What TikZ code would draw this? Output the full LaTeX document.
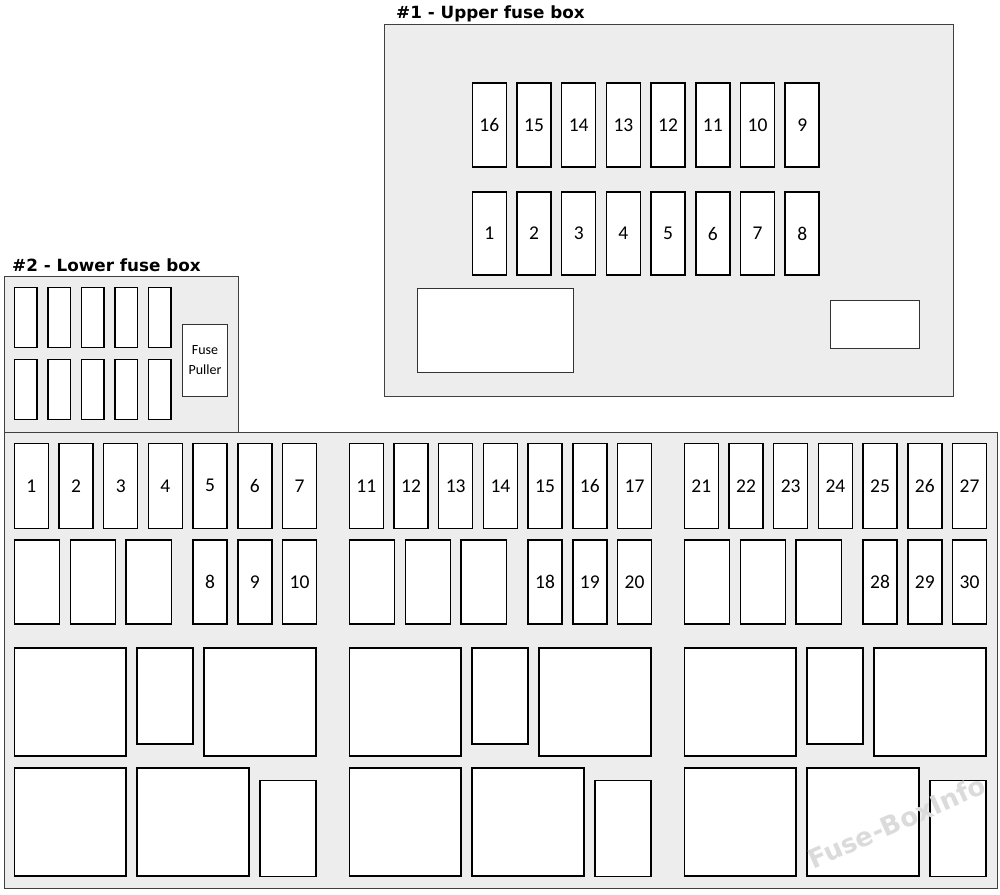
\documentclass[tikz,border=0pt]{standalone}
\usepackage{fontspec}
\setmainfont{Carlito}
\newfontfamily\titlefont{DejaVu Sans}
\begin{document}
\begin{tikzpicture}[x=1pt,y=-1pt,
  housing/.style={draw=black!75,fill=black!7,line width=1pt,inner sep=0pt,outer sep=0pt},
  fuse/.style={draw=black,fill=white,line width=1.5pt,inner sep=0pt,font=\fontsize{19.5}{20}\selectfont},
  relay/.style={draw=black,fill=white,line width=1.1pt,inner sep=0pt},
  pad/.style={draw=black!80,fill=white,line width=0.9pt,inner sep=0pt,align=center,font=\fontsize{14}{20}\selectfont},
  title/.style={anchor=base west,inner sep=0pt,font=\titlefont\bfseries\fontsize{16.8}{20}\selectfont}]
\newcommand\rbx[7]{%
  \pgfmathsetmacro\bw{#4-(#2)}\pgfmathsetmacro\bh{#5-(#3)}%
  \node[#6,minimum width=\bw,minimum height=\bh] (#1) at ({(#2+#4)/2},{(#3+#5)/2}) {#7};}
\useasboundingbox[fill=white] (0,0) rectangle (1000,894);
% ---------- upper fuse box ----------
\rbx{upper}{384}{24}{953}{396}{housing}{}
\node[title] (uptitle) at (396,18) {\#1 - Upper fuse box};
\foreach \i in {0,...,7}{
  \pgfmathsetmacro\xa{472.3+44.7*\i}
  \pgfmathtruncatemacro\lt{16-\i}
  \pgfmathtruncatemacro\lb{1+\i}
  \rbx{u\lt}{\xa}{83}{\xa+34}{167}{fuse}{\lt}
  \rbx{u\lb}{\xa}{192}{\xa+34}{275}{fuse}{\lb}
}
\rbx{urelay}{417}{288}{573}{372}{pad}{}
\rbx{uconn}{830}{300}{919}{348}{pad}{}
% ---------- lower fuse box ----------
\rbx{lowtop}{4}{276}{238.5}{432.5}{housing}{}
\rbx{lowmain}{4}{432.5}{997.5}{888.5}{housing}{}
\node[title] (lowtitle) at (12,271) {\#2 - Lower fuse box};
\foreach \i in {0,...,4}{
  \pgfmathsetmacro\xa{14.3+33.5*\i}
  \rbx{sa\i}{\xa}{287.5}{\xa+22.5}{347.5}{fuse}{}
  \rbx{sb\i}{\xa}{359.5}{\xa+22.5}{419.5}{fuse}{}
}
\rbx{puller}{182.7}{324}{227.3}{396}{pad}{Fuse\\Puller}
\foreach \g in {0,1,2}{
  \pgfmathsetmacro\o{335*\g}
  \foreach \c in {0,...,6}{
    \pgfmathsetmacro\xa{14.3+44.7*\c+\o}
    \pgfmathtruncatemacro\lab{10*\g+\c+1}
    \rbx{f\lab}{\xa}{443.3}{\xa+34}{528.3}{fuse}{\lab}
  }
  \foreach \c in {4,5,6}{
    \pgfmathsetmacro\xa{14.3+44.7*\c+\o}
    \pgfmathtruncatemacro\lab{10*\g+\c+4}
    \rbx{f\lab}{\xa}{540}{\xa+34}{624}{fuse}{\lab}
  }
  \rbx{w\g a}{14.3+\o}{540}{59.3+\o}{624}{fuse}{}
  \rbx{w\g b}{70.3+\o}{540}{115.3+\o}{624}{fuse}{}
  \rbx{w\g c}{126+\o}{540}{171.3+\o}{624}{fuse}{}
  \rbx{r\g a}{14.3+\o}{648}{126+\o}{756}{relay}{}
  \rbx{r\g b}{137+\o}{648}{193+\o}{744}{relay}{}
  \rbx{r\g c}{204+\o}{648}{316+\o}{756}{relay}{}
  \rbx{r\g d}{14.3+\o}{768}{126+\o}{876}{relay}{}
  \rbx{r\g e}{137+\o}{768}{249+\o}{876}{relay}{}
  \rbx{r\g f}{260+\o}{780.5}{316+\o}{876.5}{relay}{}
}
\node[rotate=24,text=black!14,font=\titlefont\bfseries\fontsize{26}{30}\selectfont,inner sep=0pt] (wm) at (897,822) {Fuse-BoxInfo};
\end{tikzpicture}
\end{document}
